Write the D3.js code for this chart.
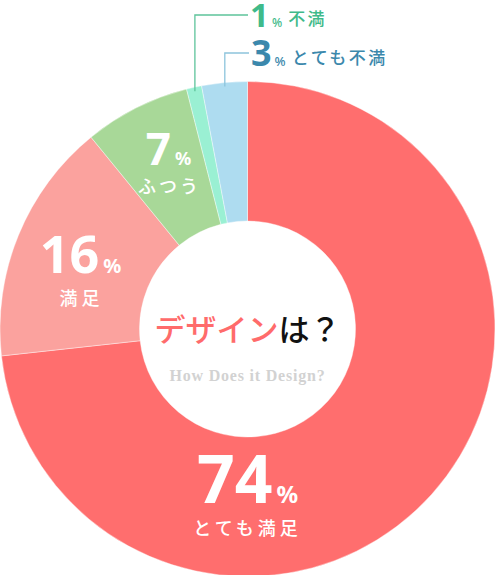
<!DOCTYPE html>
<html><head><meta charset="utf-8">
<script src="https://cdn.jsdelivr.net/npm/d3@7/dist/d3.min.js"></script>
<style>html,body{margin:0;padding:0;background:#fff;overflow:hidden}svg{display:block}</style>
</head><body>
<svg id="c" width="495" height="575"></svg>
<script>
const categories = ["とても満足", "満足", "ふつう", "不満", "とても不満"];
const values = [74, 16, 7, 1, 3];
const colors = ["#FF6E6E", "#FBA29E", "#A8D898", "#9AF0D3", "#AEDCF0"];
const titleMain = "デザイン";
const titleTail = "は？";
const subTitle = "How Does it Design?";

const W = 495, H = 575;
const cx = 247.5, cy = 329, R = 247.5, r0 = 108;
const svg = d3.select("#c");
const g = svg.append("g").attr("transform", `translate(${cx},${cy})`);

const pie = d3.pie().sort(null).value(d => d);
const arcs = pie(values);
const arc = d3.arc().innerRadius(r0).outerRadius(R);

g.selectAll("path.slice").data(arcs).join("path")
  .attr("class", "slice")
  .attr("d", arc)
  .attr("fill", (d, i) => colors[i])
  .attr("stroke", "#fff").attr("stroke-width", 0.4);

const numFont = "'Noto Sans', 'Noto Sans CJK JP', sans-serif";
const jpFont = "'Noto Sans CJK JP', sans-serif";

// inner labels
const inner = [
  {i: 0, x: 0, y: 174, ns: 66, ps: 24, ls: 18, ly: 206, sp: 4, dx: 0},
  {i: 1, x: -166, y: -56, ns: 52, ps: 20, ls: 18, ly: -24, sp: 4, dx: -1},
  {i: 2, x: -78, y: -164, ns: 44, ps: 18, ls: 18, ly: -136, sp: 3, dx: -1}
];
inner.forEach(o => {
  const t = g.append("text").attr("x", o.x + o.dx).attr("y", o.y)
    .attr("text-anchor", "middle").attr("fill", "#fff")
    .attr("font-family", numFont).attr("font-weight", 700);
  t.append("tspan").attr("font-size", o.ns).text(values[o.i]);
  t.append("tspan").attr("font-size", o.ps).attr("dx", 4).text("%");
  g.append("text").attr("x", o.x).attr("y", o.ly)
    .attr("text-anchor", "middle").attr("fill", "#fff")
    .attr("font-family", jpFont).attr("font-weight", 500)
    .attr("font-size", o.ls).attr("letter-spacing", o.sp)
    .text(categories[o.i]);
});

// outer labels with leader lines
const outer = [
  {i: 3, ly: 15, tx: 250, ty: 27, lineColor: "#5DC49B", textColor: "#3FBA8A", ns: 33, ps: 12, ls: 17, sp: 2.5},
  {i: 4, ly: 53, tx: 251, ty: 66, lineColor: "#8DC4DC", textColor: "#3B88AC", ns: 36, ps: 13, ls: 17, sp: 2.5}
];
outer.forEach(o => {
  const a = arcs[o.i];
  const mid = (a.startAngle + a.endAngle) / 2;
  const px = cx + Math.sin(mid) * (R - 4);
  const py = cy - Math.cos(mid) * (R - 4);
  svg.append("path")
    .attr("d", d3.line()([[px, py], [px, o.ly], [o.tx - 2, o.ly]]))
    .attr("fill", "none").attr("stroke", o.lineColor).attr("stroke-width", 1.3);
  const t = svg.append("text").attr("x", o.tx).attr("y", o.ty)
    .attr("fill", o.textColor).attr("font-family", numFont).attr("font-weight", 700);
  t.append("tspan").attr("font-size", o.ns).text(values[o.i]);
  t.append("tspan").attr("font-size", o.ps).attr("dx", 3).attr("font-weight", 500).text("%");
  t.append("tspan").attr("font-size", o.ls).attr("dx", 6).attr("dy", -2)
    .attr("font-family", jpFont).attr("font-weight", 500)
    .attr("letter-spacing", o.sp).text(categories[o.i]);
});

// center title
const tt = g.append("text").attr("x", 0).attr("y", 12).attr("text-anchor", "middle")
  .attr("font-family", jpFont).attr("font-weight", 500).attr("font-size", 31);
tt.append("tspan").attr("fill", "#FF6B6B").text(titleMain);
tt.append("tspan").attr("fill", "#111").text(titleTail);

g.append("text").attr("x", 0).attr("y", 52).attr("text-anchor", "middle")
  .attr("font-family", "'Liberation Serif', serif").attr("font-weight", 700)
  .attr("font-size", 16).attr("letter-spacing", 0.8).attr("fill", "#D2D2D2")
  .text(subTitle);
</script>
</body></html>
